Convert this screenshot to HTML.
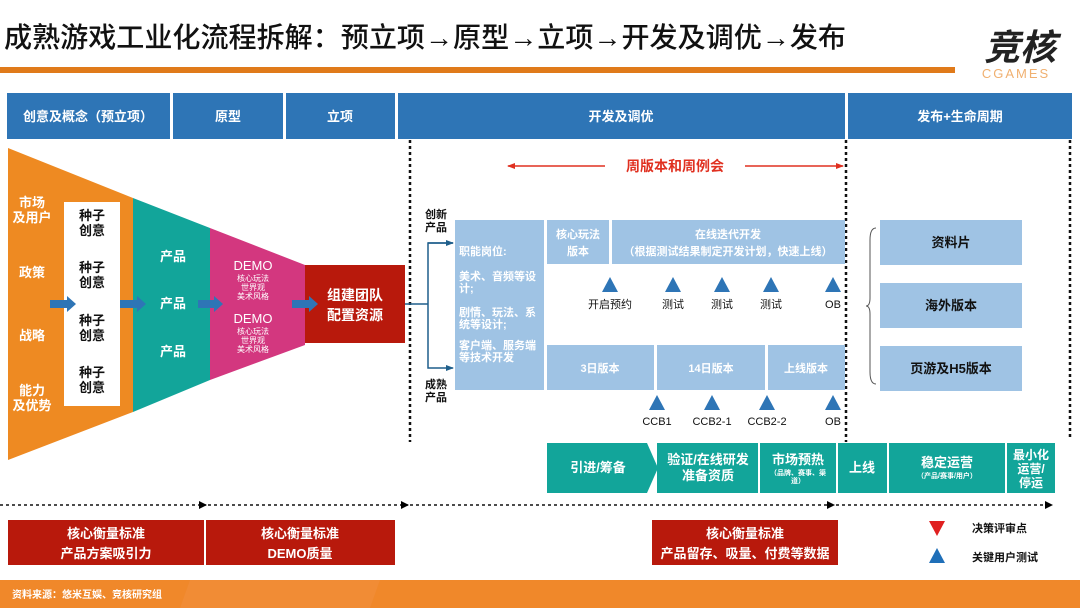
<!DOCTYPE html>
<html><head><meta charset="utf-8"><style>
body{margin:0;background:#fff;}
svg{display:block;font-family:"Liberation Sans","Noto Sans CJK SC",sans-serif;}
</style></head><body>
<svg width="1080" height="608" viewBox="0 0 1080 608" xmlns="http://www.w3.org/2000/svg">
<defs>
<marker id="ah" markerWidth="8" markerHeight="8" refX="7" refY="4" orient="auto" markerUnits="userSpaceOnUse"><path d="M0,0 L8,4 L0,8z" fill="#000"/></marker>
<marker id="rh" markerWidth="8" markerHeight="8" refX="7" refY="4" orient="auto" markerUnits="userSpaceOnUse"><path d="M0,1 L8,4 L0,7z" fill="#e03020"/></marker>
<marker id="bh" markerWidth="8" markerHeight="8" refX="7" refY="4" orient="auto" markerUnits="userSpaceOnUse"><path d="M0,1 L8,4 L0,7z" fill="#1f5f8b"/></marker>
</defs>
<text x="4" y="47" font-size="28" fill="#111" font-weight="500" textLength="842" lengthAdjust="spacingAndGlyphs">成熟游戏工业化流程拆解：预立项→原型→立项→开发及调优→发布</text>
<rect x="0" y="67" width="955" height="6" fill="#e07a1a"/>
<text x="1020" y="60" font-size="36" font-weight="bold" fill="#222" text-anchor="middle" font-style="italic">竞核</text>
<text x="1016" y="78" font-size="13" fill="#f0b070" text-anchor="middle" letter-spacing="2">CGAMES</text>
<g fill="#2e75b6">
<rect x="7" y="93" width="163" height="46"/><rect x="173" y="93" width="110" height="46"/><rect x="286" y="93" width="109" height="46"/><rect x="398" y="93" width="447" height="46"/><rect x="848" y="93" width="224" height="46"/>
</g>
<g fill="#fff" font-size="13" font-weight="bold" text-anchor="middle">
<text x="88" y="121">创意及概念（预立项）</text><text x="228" y="121">原型</text><text x="340" y="121">立项</text><text x="621" y="121">开发及调优</text><text x="960" y="121">发布+生命周期</text>
</g>
<polygon points="8,148 133,198 133,412 8,460" fill="#ee8a22"/>
<polygon points="133,198 210,228 210,380 133,412" fill="#12a59a"/>
<polygon points="210,228 305,265 305,345 210,380" fill="#d3377f"/>
<rect x="305" y="265" width="100" height="78" fill="#b8190c"/>
<rect x="64" y="202" width="56" height="204" fill="#fff"/>
<g fill="#fff" font-size="13" font-weight="bold" text-anchor="middle">
<text x="32" y="207">市场</text><text x="32" y="222">及用户</text>
<text x="32" y="277">政策</text><text x="32" y="340">战略</text>
<text x="32" y="395">能力</text><text x="32" y="410">及优势</text>
<text x="173" y="261">产品</text><text x="173" y="308">产品</text><text x="173" y="356">产品</text>
<text x="355" y="300" font-size="14">组建团队</text><text x="355" y="320" font-size="14">配置资源</text>
</g>
<g fill="#111" font-size="13" font-weight="bold" text-anchor="middle">
<text x="92" y="220">种子</text><text x="92" y="235">创意</text>
<text x="92" y="272">种子</text><text x="92" y="287">创意</text>
<text x="92" y="325">种子</text><text x="92" y="340">创意</text>
<text x="92" y="377">种子</text><text x="92" y="392">创意</text>
</g>
<g fill="#fff" text-anchor="middle">
<text x="253" y="270" font-size="13">DEMO</text><text x="253" y="281" font-size="8">核心玩法</text><text x="253" y="290" font-size="8">世界观</text><text x="253" y="299" font-size="8">美术风格</text>
<text x="253" y="323" font-size="13">DEMO</text><text x="253" y="334" font-size="8">核心玩法</text><text x="253" y="343" font-size="8">世界观</text><text x="253" y="352" font-size="8">美术风格</text>
</g>
<g fill="#2e75b6">
<polygon points="50,300 67,300 67,296 76,304 67,312 67,308 50,308"/>
<polygon points="120,300 137,300 137,296 146,304 137,312 137,308 120,308"/>
<polygon points="198,300 214,300 214,296 223,304 214,312 214,308 198,308"/>
<polygon points="292,300 309,300 309,296 318,304 309,312 309,308 292,308"/>
</g>
<g stroke="#111" stroke-width="2.5" stroke-dasharray="3,3">
<line x1="410" y1="140" x2="410" y2="442"/><line x1="846" y1="140" x2="846" y2="442"/><line x1="1070" y1="140" x2="1070" y2="440"/>
</g>
<g stroke="#1f5f8b" stroke-width="1.5" fill="none">
<line x1="405" y1="304" x2="428" y2="304"/>
<polyline points="453,243 428,243 428,368 453,368" marker-end="url(#bh)"/>
<line x1="428" y1="243" x2="453" y2="243" marker-end="url(#bh)"/>
</g>
<g fill="#111" font-size="11" font-weight="bold">
<text x="425" y="218">创新</text><text x="425" y="231">产品</text>
<text x="425" y="388">成熟</text><text x="425" y="401">产品</text>
</g>
<line x1="605" y1="166" x2="508" y2="166" stroke="#e03020" stroke-width="1.5" marker-end="url(#rh)"/>
<line x1="745" y1="166" x2="843" y2="166" stroke="#e03020" stroke-width="1.5" marker-end="url(#rh)"/>
<text x="675" y="171" font-size="14" font-weight="bold" fill="#e03020" text-anchor="middle">周版本和周例会</text>
<g fill="#9fc3e4">
<rect x="455" y="220" width="89" height="170"/>
<rect x="547" y="220" width="62" height="44"/><rect x="612" y="220" width="233" height="44"/>
<rect x="547" y="345" width="107" height="45"/><rect x="657" y="345" width="108" height="45"/><rect x="768" y="345" width="77" height="45"/>
</g>
<g fill="#fff" font-size="11" font-weight="bold">
<text x="459" y="255">职能岗位:</text>
<text x="459" y="280">美术、音频等设</text><text x="459" y="292">计;</text>
<text x="459" y="316">剧情、玩法、系</text><text x="459" y="328">统等设计;</text>
<text x="459" y="349">客户端、服务端</text><text x="459" y="361">等技术开发</text>
</g>
<g fill="#fff" font-size="11" font-weight="bold" text-anchor="middle">
<text x="578" y="238">核心玩法</text><text x="578" y="255">版本</text>
<text x="728" y="238">在线迭代开发</text><text x="728" y="255">（根据测试结果制定开发计划，快速上线）</text>
<text x="600" y="372">3日版本</text><text x="711" y="372">14日版本</text><text x="806" y="372">上线版本</text>
</g>
<g fill="#2e75b6">
<polygon points="610,277 602,292 618,292"/><polygon points="673,277 665,292 681,292"/><polygon points="722,277 714,292 730,292"/><polygon points="771,277 763,292 779,292"/><polygon points="833,277 825,292 841,292"/>
<polygon points="657,395 649,410 665,410"/><polygon points="712,395 704,410 720,410"/><polygon points="767,395 759,410 775,410"/><polygon points="833,395 825,410 841,410"/>
</g>
<g fill="#111" font-size="11" text-anchor="middle">
<text x="610" y="308">开启预约</text><text x="673" y="308">测试</text><text x="722" y="308">测试</text><text x="771" y="308">测试</text><text x="833" y="308">OB</text>
<text x="657" y="425">CCB1</text><text x="712" y="425">CCB2-1</text><text x="767" y="425">CCB2-2</text><text x="833" y="425">OB</text>
</g>
<path d="M876,228 Q870,228 870,240 L870,298 Q870,306 866,306 Q870,306 870,314 L870,372 Q870,384 876,384" fill="none" stroke="#555" stroke-width="1"/>
<g fill="#9fc3e4"><rect x="880" y="220" width="142" height="45"/><rect x="880" y="283" width="142" height="45"/><rect x="880" y="346" width="142" height="45"/></g>
<g fill="#111" font-size="13" font-weight="bold" text-anchor="middle">
<text x="951" y="247">资料片</text><text x="951" y="310">海外版本</text><text x="951" y="373">页游及H5版本</text>
</g>
<g fill="#12a59a">
<polygon points="547,443 647,443 658,468 647,493 547,493"/>
<rect x="657" y="443" width="101" height="50"/><rect x="760" y="443" width="76" height="50"/><rect x="838" y="443" width="49" height="50"/><rect x="889" y="443" width="116" height="50"/><rect x="1007" y="443" width="48" height="50"/>
</g>
<g fill="#fff" font-weight="bold" text-anchor="middle">
<text x="598" y="472" font-size="13">引进/筹备</text>
<text x="708" y="464" font-size="13">验证/在线研发</text><text x="708" y="480" font-size="13">准备资质</text>
<text x="798" y="464" font-size="13">市场预热</text><text x="798" y="475" font-size="7">（品牌、赛事、渠</text><text x="798" y="483" font-size="7">道）</text>
<text x="862" y="472" font-size="13">上线</text>
<text x="947" y="467" font-size="13">稳定运营</text><text x="947" y="478" font-size="7">（产品/赛事/用户）</text>
<text x="1031" y="459" font-size="12">最小化</text><text x="1031" y="473" font-size="12">运营/</text><text x="1031" y="487" font-size="12">停运</text>
</g>
<g stroke="#111" stroke-width="1.5" stroke-dasharray="3,3" fill="none">
<line x1="0" y1="505" x2="206" y2="505" marker-end="url(#ah)"/>
<line x1="208" y1="505" x2="408" y2="505" marker-end="url(#ah)"/>
<line x1="410" y1="505" x2="834" y2="505" marker-end="url(#ah)"/>
<line x1="836" y1="505" x2="1052" y2="505" marker-end="url(#ah)"/>
</g>
<g fill="#b8190c"><rect x="8" y="520" width="196" height="45"/><rect x="206" y="520" width="189" height="45"/><rect x="652" y="520" width="186" height="45"/></g>
<g fill="#fff" font-size="13" font-weight="bold" text-anchor="middle">
<text x="106" y="538">核心衡量标准</text><text x="106" y="558">产品方案吸引力</text>
<text x="300" y="538">核心衡量标准</text><text x="300" y="558">DEMO质量</text>
<text x="745" y="538">核心衡量标准</text><text x="745" y="558">产品留存、吸量、付费等数据</text>
</g>
<polygon points="929,521 945,521 937,536" fill="#e02020"/>
<polygon points="937,548 929,563 945,563" fill="#1f6fb8"/>
<g fill="#111" font-size="11" font-weight="bold"><text x="972" y="532">决策评审点</text><text x="972" y="561">关键用户测试</text></g>
<rect x="0" y="580" width="1080" height="28" fill="#f0882a"/>
<polygon points="190,580 380,580 370,608 180,608" fill="#f29040" opacity="0.5"/>
<text x="12" y="598" font-size="10" fill="#fff" font-weight="bold">资料来源：悠米互娱、竞核研究组</text>
</svg>
</body></html>
